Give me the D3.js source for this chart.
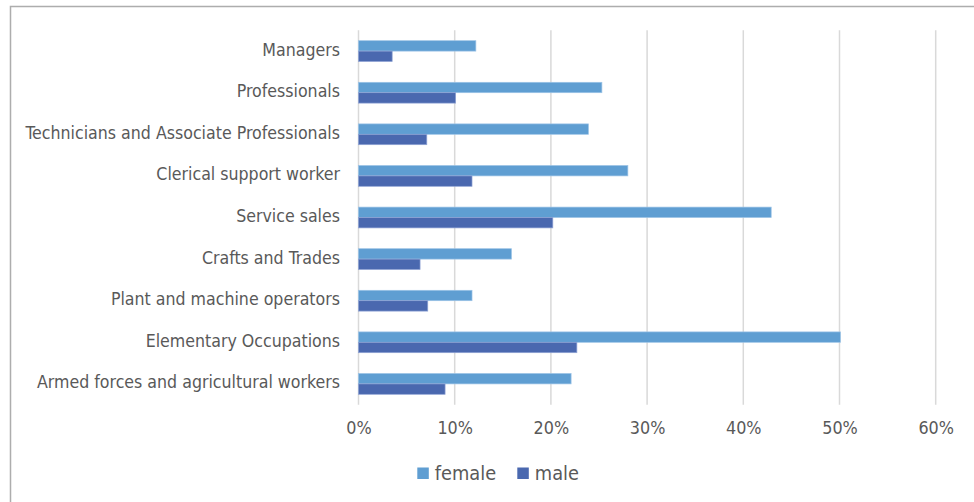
<!DOCTYPE html>
<html><head><meta charset="utf-8">
<script src="https://cdn.jsdelivr.net/npm/d3@7"></script>
<style>
html,body{margin:0;padding:0;background:#fff;}
svg text{font-family:"DejaVu Sans Condensed","Liberation Sans Narrow","DejaVu Sans",sans-serif;fill:#595959;}
</style></head>
<body>
<svg id="chart" width="974" height="502"></svg>
<script>
const categories = ["Managers","Professionals","Technicians and Associate Professionals","Clerical support worker","Service sales","Crafts and Trades","Plant and machine operators","Elementary Occupations","Armed forces and agricultural workers"];
const femaleValues = [12.2, 25.3, 23.9, 28.0, 42.9, 15.9, 11.8, 50.1, 22.1];
const maleValues = [3.5, 10.1, 7.1, 11.8, 20.2, 6.4, 7.2, 22.7, 9.0];
const seriesNames = ["female","male"];
const seriesColors = ["#5f9ed2","#4a68af"];
const tickValues = [0,10,20,30,40,50,60];

const svg = d3.select("#chart");
svg.append("rect").attr("x",10.5).attr("y",6.5).attr("width",1000).attr("height",600)
  .attr("fill","none").attr("stroke","#adadad").attr("stroke-width",1.5);

const pLeft = 358.5, pRight = 935.7, pTop = 30.3, pBottom = 404.7;
const x = d3.scaleLinear().domain([0,60]).range([pLeft,pRight]);
const y = d3.scaleBand().domain(categories).range([pTop,pBottom]).paddingInner(0.5).paddingOuter(0.25);
const sub = d3.scaleBand().domain(seriesNames).range([0,y.bandwidth()]);

svg.append("g").selectAll("line").data(tickValues).join("line")
  .attr("x1",d=>x(d)).attr("x2",d=>x(d)).attr("y1",pTop).attr("y2",pBottom)
  .attr("stroke","#d9d9d9").attr("stroke-width",1.5);

const xAxis = d3.axisBottom(x).tickValues(tickValues).tickFormat(d=>d+"%").tickSize(0).tickPadding(0);
const gx = svg.append("g").attr("transform",`translate(0,${pBottom})`).call(xAxis);
gx.select(".domain").remove();
gx.attr("font-family",null).attr("font-size",null);
gx.selectAll("text").attr("dy",null).attr("y",29.5).attr("font-size",17.8);

const yAxis = d3.axisLeft(y).tickSize(0).tickPadding(0);
const gy = svg.append("g").attr("transform",`translate(340,0)`).call(yAxis);
gy.select(".domain").remove();
gy.attr("font-family",null).attr("font-size",null);
gy.selectAll("text").attr("dy",null).attr("x",0).attr("y",4.5).attr("font-size",17.6);

const data = categories.map((c,i)=>({cat:c, vals:[{s:"female",v:femaleValues[i]},{s:"male",v:maleValues[i]}]}));
const g = svg.append("g");
g.selectAll("g").data(data).join("g")
  .attr("transform",d=>`translate(0,${y(d.cat)})`)
  .selectAll("rect").data(d=>d.vals).join("rect")
  .attr("x",x(0)).attr("y",d=>sub(d.s)).attr("height",sub.bandwidth())
  .attr("width",d=>x(d.v)-x(0))
  .attr("fill",(d,i)=>seriesColors[i])
  .attr("stroke",(d,i)=>i===0?"#9cc3e6":"#8fa3d4").attr("stroke-width",0.7);

const legX = [417.3, 517.3];
const leg = svg.append("g").selectAll("g").data(seriesNames).join("g")
  .attr("transform",(d,i)=>`translate(${legX[i]},467.5)`);
leg.append("rect").attr("width",11.5).attr("height",11.5).attr("fill",(d,i)=>seriesColors[i]);
leg.append("text").attr("x",17.5).attr("y",12.5).attr("font-size",19.8).text(d=>d);
</script>
</body></html>
